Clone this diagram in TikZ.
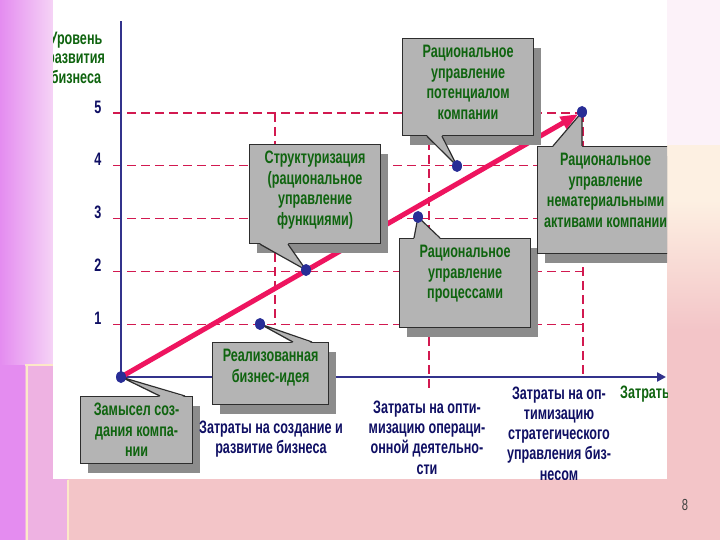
\documentclass[tikz,border=0pt]{standalone}
\usepackage{fontspec}
\newfontfamily\narrowfont{Liberation Sans}[FakeStretch=0.7]
\usetikzlibrary{calc,shadows,arrows.meta}

% Colours
\definecolor{bgpink}{RGB}{243,197,200}
\definecolor{bgcream}{RGB}{253,240,226}
\definecolor{bgtop}{RGB}{252,242,249}
\definecolor{bgviolet}{RGB}{228,140,240}
\definecolor{bglilac}{RGB}{246,214,246}
\definecolor{bgmauve}{RGB}{238,178,226}
\definecolor{bgline}{RGB}{252,232,200}
\definecolor{boxfill}{RGB}{180,180,180}
\definecolor{boxline}{RGB}{45,45,45}
\definecolor{shadowgray}{RGB}{140,140,140}
\definecolor{boxgreen}{RGB}{15,100,15}
\definecolor{navytext}{RGB}{15,15,100}
\definecolor{axisblue}{RGB}{50,50,140}
\definecolor{gridred}{RGB}{210,25,80}
\definecolor{trendred}{RGB}{238,20,95}
\definecolor{dotblue}{RGB}{40,45,150}

% text inside a callout box: width, height, lines
\newcommand{\boxtext}[3]{\parbox[c][#2pt][t]{#1pt}{\centering\rule{0pt}{19pt}#3}}

\tikzset{
  callout/.style={draw=boxline, line width=1.2pt, fill=boxfill, inner sep=0pt,
    anchor=north west, text=boxgreen,
    font=\narrowfont\bfseries\fontsize{18}{20.5}\selectfont,
    drop shadow={shadow xshift=7pt, shadow yshift=-9pt, fill=shadowgray, opacity=1}},
  costlabel/.style={align=center, text=navytext, inner sep=0pt,
    font=\narrowfont\bfseries\fontsize{18}{20.3}\selectfont},
  greenlabel/.style={align=center, text=boxgreen, inner sep=0pt,
    font=\narrowfont\bfseries\fontsize{18}{19.5}\selectfont},
  tick/.style={text=navytext, inner sep=0pt, font=\narrowfont\bfseries\fontsize{18}{20}\selectfont},
  grid/.style={gridred, line width=1.1pt, dash pattern=on 9pt off 5pt},
  axis/.style={axisblue, line width=2.5pt},
  trend/.style={trendred, line width=5pt, shorten >=4pt, -{Triangle[length=18pt,width=13pt]}},
  dot/.style={ellipse, fill=dotblue, inner sep=0pt, minimum width=10pt, minimum height=12pt}
}
\usetikzlibrary{shapes.geometric}

\begin{document}
\begin{tikzpicture}[x=1pt,y=-1pt]
\useasboundingbox (0,0) rectangle (720,540);

% Slide background
\fill[bgpink] (0,0) rectangle (720,540);
\shade[top color=bgcream, bottom color=bgpink] (0,200) rectangle (720,330);
\fill[bgcream] (0,145) rectangle (720,200);
\fill[bgtop] (0,0) rectangle (720,145);
\shade[left color=bgviolet, right color=bglilac] (0,0) rectangle (55,365);
\fill[bgviolet] (0,365) rectangle (25,540);
\fill[bgmauve] (25,365) rectangle (68,540);
\draw[bgline, line width=2pt] (27,365) -- (27,540);
\draw[bgline, line width=1.5pt] (25,365) -- (55,365);
\draw[bgline, line width=1.5pt] (68,480) -- (68,540);

% Page number
\node[text=black!75, font=\narrowfont\fontsize{16}{18}\selectfont] (pagenum) at (685,505) {8};

% Diagram panel
\fill[white] (53,0) rectangle (667,479);
\begin{scope}
\clip (53,0) rectangle (667,479);

% Points on the chart
\coordinate (O) at (121,377);
\coordinate (R) at (260,324);
\coordinate (S) at (306,270);
\coordinate (P) at (418,217);
\coordinate (K) at (457,166);
\coordinate (N) at (582,112);

% Dashed levels and tick numbers
\foreach \k in {1,...,5} {
  \draw[grid] (113,{377-52.8*\k}) -- (583,{377-52.8*\k});
  \node[tick] (t\k) at (98,{371-52.8*\k}) {\k};
}

% Dashed verticals
\draw[grid] (275,113) -- (275,325);
\draw[grid] (429,113) -- (429,388);
\draw[grid] (583,113) -- (583,377);

% Axes
\coordinate (Ytop) at (121,21);
\coordinate (Xend) at (666,377);
\draw[axis] (O) -- (Ytop);
\draw[axis, -{Triangle[length=9pt,width=9pt]}] (O) -- (Xend);

% Growth arrow
\draw[trend] (O) -- (N);

% Callout boxes
\node[callout] (idea) at (80,396) {\boxtext{112}{67}{Замысел соз-\\дания компа-\\нии}};
\node[callout] (realised) at (212,342) {\boxtext{116}{62}{Реализованная\\бизнес-идея}};
\node[callout] (struct) at (249,144) {\boxtext{131}{99}{Структуризация\\(рациональное\\управление\\функциями)}};
\node[callout] (potential) at (402,38) {\boxtext{131}{97}{Рациональное\\управление\\потенциалом\\компании}};
\node[callout] (process) at (399,238) {\boxtext{131}{89}{Рациональное\\управление\\процессами}};
\node[callout] (assets) at (537,146) {\boxtext{136}{107}{Рациональное\\управление\\нематериальными\\активами компании}};

% Callout pointers
\foreach \b/\a/\p/\q/\e/\t in {idea/north west/80/105/1/O, realised/north west/81/100/1/R,
    struct/south west/11/39/-1/S, potential/south west/25/40/-1/K,
    process/north west/15/41/1/P, assets/north west/16/45/1/N} {
  \fill[boxfill] ($(\b.\a)+(\p,\e)$) -- (\t) -- ($(\b.\a)+(\q,\e)$) -- cycle;
  \draw[boxline, line width=1.2pt] ($(\b.\a)+(\p,0)$) -- (\t) -- ($(\b.\a)+(\q,0)$);
}

% Dots
\foreach \p in {O,R,S,P,K,N}
  \node[dot] (dot\p) at (\p) {};

% Axis labels
\node[greenlabel] (ylab) at (76,57.5) {Уровень\\развития\\бизнеса};
\node[greenlabel, anchor=west] (xlab) at (620,394) {Затраты};
\node[costlabel] (cost1) at (271,439) {Затраты на создание и\\развитие бизнеса};
\node[costlabel] (cost2) at (427,437.5) {Затраты на опти-\\мизацию операци-\\онной деятельно-\\сти};
\node[costlabel] (cost3) at (559,433.5) {Затраты на оп-\\тимизацию\\стратегического\\управления биз-\\несом};

\end{scope}
\end{tikzpicture}
\end{document}
